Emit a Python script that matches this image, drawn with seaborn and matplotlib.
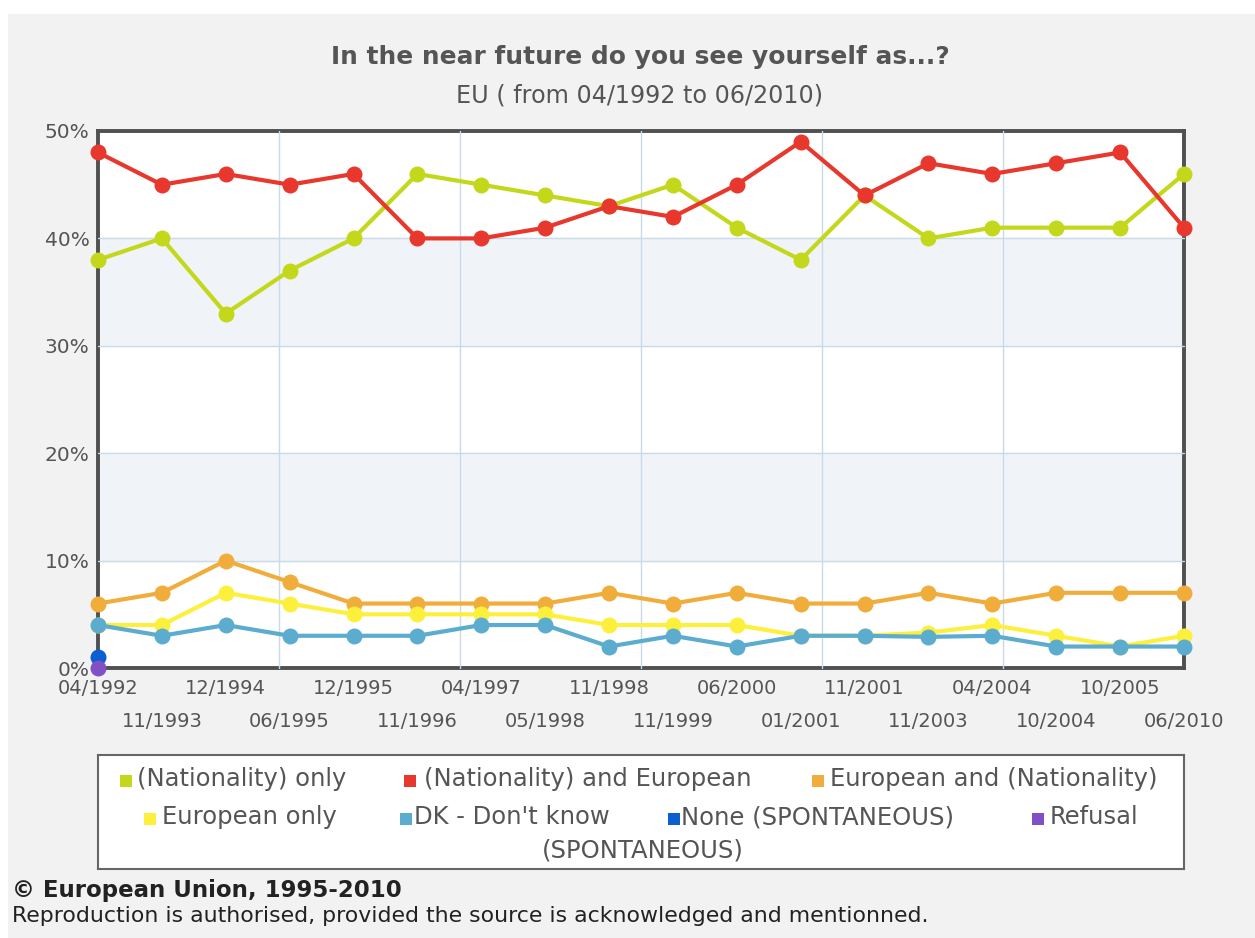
import numpy as np
import pandas as pd
import matplotlib
matplotlib.use("Agg")
import matplotlib.pyplot as plt
from matplotlib.patches import Rectangle
import seaborn as sns

# ==========================================================
# DATA
# ==========================================================

waves = ["04/1992", "11/1993", "12/1994", "06/1995", "12/1995", "11/1996",
         "04/1997", "05/1998", "11/1998", "11/1999", "06/2000", "01/2001",
         "11/2001", "11/2003", "04/2004", "10/2004", "10/2005", "06/2010"]

nationality_only = [38, 40, 33, 37, 40, 46, 45, 44, 43, 45, 41, 38, 44, 40, 41, 41, 41, 46]
nationality_and_european = [48, 45, 46, 45, 46, 40, 40, 41, 43, 42, 45, 49, 44, 47, 46, 47, 48, 41]
european_and_nationality = [6, 7, 10, 8, 6, 6, 6, 6, 7, 6, 7, 6, 6, 7, 6, 7, 7, 7]
european_only = [4, 4, 7, 6, 5, 5, 5, 5, 4, 4, 4, 3, 3, 3.3, 4, 3, 2, 3]
dont_know = [4, 3, 4, 3, 3, 3, 4, 4, 2, 3, 2, 3, 3, 2.9, 3, 2, 2, 2]
none_spontaneous = [1]
refusal_spontaneous = [0]

series_names = ["(Nationality) only", "(Nationality) and European",
                "European and (Nationality)", "European only", "DK - Don't know",
                "None (SPONTANEOUS)", "Refusal (SPONTANEOUS)"]
series_values = [nationality_only, nationality_and_european, european_and_nationality,
                 european_only, dont_know, none_spontaneous, refusal_spontaneous]
series_colors = ["#c3d81a", "#e8382d", "#f0ad3c", "#fdf03c", "#5cacd0", "#0b5fd0", "#8150c6"]

title = "In the near future do you see yourself as...?"
subtitle = "EU ( from 04/1992 to 06/2010)"
y_ticks = [0, 10, 20, 30, 40, 50]

# ==========================================================
# STYLE
# ==========================================================

sns.set_style("white")
plt.rcParams["font.family"] = ["DejaVu Sans"]

TEXT_GREY = "#555555"
W, H = 1255, 938

rows = []
for name, vals in zip(series_names, series_values):
    for i, v in enumerate(vals):
        rows.append({"pos": i, "value": v, "series": name})
df = pd.DataFrame(rows)

fig = plt.figure(figsize=(W / 100, H / 100), dpi=100)
fig.patch.set_facecolor("white")
fig.add_artist(Rectangle((8 / W, 0), 1, (H - 14) / H, transform=fig.transFigure,
                         facecolor="#f2f2f3", edgecolor="none", zorder=0))

# ==========================================================
# MAIN PLOT
# ==========================================================

ax = fig.add_axes([98 / W, 1 - 668 / H, 1086 / W, 537 / H])
ax.set_facecolor("white")

for lo, hi in [(10, 20), (30, 40)]:
    ax.axhspan(lo, hi, color="#f0f4f9", zorder=0)
for y in y_ticks[1:-1]:
    ax.axhline(y, color="#c9dae8", lw=1, zorder=0.5)
for k in range(1, 6):
    ax.axvline(k * (len(waves) - 1) / 6, color="#c9dae8", lw=1, zorder=0.5)

sns.lineplot(data=df, x="pos", y="value", hue="series", hue_order=series_names,
             palette=series_colors, marker="o", markersize=11.5, markeredgewidth=0,
             linewidth=3, errorbar=None, legend=False, sort=False, ax=ax)

for line in ax.lines:
    line.set_clip_on(False)
    line.set_zorder(3)

ax.set_xlim(0, len(waves) - 1)
ax.set_ylim(0, 50)
ax.set_xlabel("")
ax.set_ylabel("")

ax.set_xticks(range(0, len(waves), 2))
ax.set_xticklabels(waves[0::2])
ax.set_xticks(range(1, len(waves), 2), minor=True)
ax.set_xticklabels(waves[1::2], minor=True)
ax.tick_params(axis="x", which="major", length=0, pad=8, labelsize=14, labelcolor=TEXT_GREY)
ax.tick_params(axis="x", which="minor", length=0, pad=32, labelsize=14, labelcolor=TEXT_GREY)

ax.set_yticks(y_ticks)
ax.set_yticklabels([f"{t}%" for t in y_ticks])
ax.tick_params(axis="y", length=0, pad=6, labelsize=14.5, labelcolor=TEXT_GREY)

for sp in ax.spines.values():
    sp.set_visible(True)
    sp.set_color("#505050")
    sp.set_linewidth(2.8)

# ==========================================================
# TITLES
# ==========================================================

fig.text(640 / W, 1 - 57 / H, title, ha="center", va="center",
         fontsize=17.9, fontweight="bold", color=TEXT_GREY)
fig.text(640 / W, 1 - 96 / H, subtitle, ha="center", va="center",
         fontsize=17.2, color=TEXT_GREY)

# ==========================================================
# LEGEND BOX (flow layout like the original)
# ==========================================================

lax = fig.add_axes([98 / W, 1 - 869 / H, 1086 / W, 114 / H])
lax.set_xlim(98, 1184)
lax.set_ylim(869, 755)
lax.set_xticks([])
lax.set_yticks([])
lax.set_facecolor("white")
for sp in lax.spines.values():
    sp.set_color("#666666")
    sp.set_linewidth(1.5)

# (marker x, text x, row y) in pixel space of the box
legend_layout = [(126, 137, 779), (410, 424, 779), (818, 830, 779),
                 (150, 162, 817), (406, 414, 817), (674, 681, 817), (1038, 1050, 817)]
legend_labels = ["(Nationality) only", "(Nationality) and European",
                 "European and (Nationality)", "European only", "DK - Don't know",
                 "None (SPONTANEOUS)", "Refusal"]

for (mx, tx, ty), lab, col in zip(legend_layout, legend_labels, series_colors):
    lax.scatter([mx], [ty + 2], marker="s", s=70, color=col, linewidths=0)
    lax.text(tx, ty, lab, ha="left", va="center", fontsize=17.5, color=TEXT_GREY)
lax.text(643, 850, "(SPONTANEOUS)", ha="center", va="center", fontsize=17.5, color=TEXT_GREY)

# ==========================================================
# FOOTER
# ==========================================================

fig.text(12 / W, 1 - 890 / H, "\u00a9 European Union, 1995-2010", ha="left", va="center",
         fontsize=16.5, fontweight="bold", color="#222222")
fig.text(12 / W, 1 - 916 / H,
         "Reproduction is authorised, provided the source is acknowledged and mentionned.",
         ha="left", va="center", fontsize=15.8, color="#222222")

plt.savefig("out.png", dpi=100)
plt.close()
